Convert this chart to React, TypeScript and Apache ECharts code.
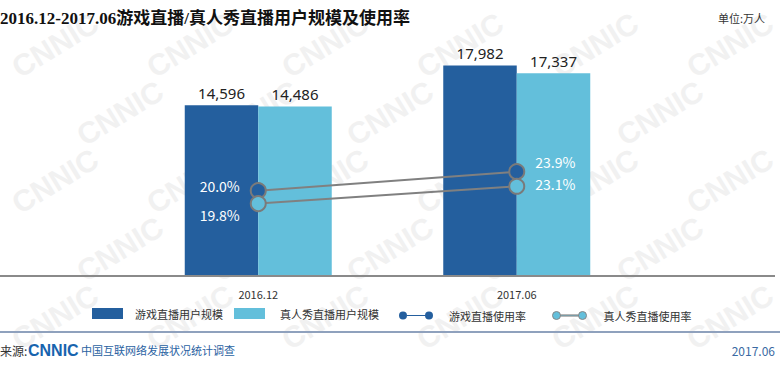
import React, { useEffect, useRef } from "react";
import * as echarts from "echarts";

const categories = ["2016.12", "2017.06"];
const gameUsers = [14596, 17982];
const showUsers = [14486, 17337];
const gameRate = [20.0, 23.9];
const showRate = [19.8, 23.1];

const seriesNames = ["游戏直播用户规模", "真人秀直播用户规模", "游戏直播使用率", "真人秀直播使用率"];

const DARK = "#245f9e";
const LIGHT = "#63bfdb";
const CJK = "'Noto Sans CJK SC', 'Noto Sans', sans-serif";

const lineIcon =
  "path://M0,4A4,4,0,1,1,8,4A4,4,0,1,1,0,4Z M8,3.4H26V4.6H8Z M26,4A4,4,0,1,1,34,4A4,4,0,1,1,26,4Z";

export default function App() {
  const ref = useRef<HTMLDivElement>(null);
  useEffect(() => {
    if (!ref.current) return;
    const chart = echarts.init(ref.current, null, { renderer: "svg" });

    const watermarks: any[] = [];
    for (let r = 0; r < 5; r++) {
      for (let c = 0; c < 6; c++) {
        const cx = 55 + c * 135 + (r % 2) * 65;
        if (cx > 735) continue;
        watermarks.push({
          type: "text",
          x: cx,
          y: 45 + r * 68,
          rotation: 0.55,
          z: -10,
          silent: true,
          style: {
            text: "CNNIC",
            fontSize: 30,
            fontWeight: "bold",
            fontFamily: "'Liberation Sans', sans-serif",
            fill: "#f1f1f1",
            textAlign: "center",
            textVerticalAlign: "middle",
          },
        });
      }
    }

    const legendBase = {
      top: 308,
      padding: 0,
      selectedMode: false,
      textStyle: { fontSize: 11, color: "#333", fontFamily: CJK },
    };

    const rateLabel = (pos: string, dist: number, dy: number) => ({
      show: true,
      position: pos,
      distance: dist,
      offset: [0, dy],
      color: "#fff",
      fontSize: 14,
      fontFamily: CJK,
      formatter: (p: any) => p.value.toFixed(1) + "%",
    });

    const barLabel = {
      show: true,
      position: "top",
      distance: 5,
      fontSize: 15,
      color: "#222",
      fontFamily: "'Noto Sans', sans-serif",
      formatter: (p: any) => p.value.toLocaleString("en-US"),
    };

    chart.setOption({
      animation: false,
      backgroundColor: "#fff",
      grid: { left: 129, right: 134, top: 42, bottom: 92 },
      xAxis: {
        type: "category",
        data: categories,
        axisLine: { show: false },
        axisTick: { show: false },
        axisLabel: { margin: 12, fontSize: 11, color: "#333", fontFamily: CJK },
      },
      yAxis: [
        { type: "value", min: 0, max: 20000, show: false },
        { type: "value", min: 2.5, max: 50.5, show: false },
        { type: "value", min: 6, max: 50.6, show: false },
      ],
      legend: [
        {
          ...legendBase,
          left: 92,
          data: [seriesNames[0]],
          icon: "rect",
          itemWidth: 31,
          itemHeight: 11,
          textStyle: { ...legendBase.textStyle, padding: [0, 0, 0, 7] },
        },
        {
          ...legendBase,
          left: 234,
          data: [seriesNames[1]],
          icon: "rect",
          itemWidth: 31,
          itemHeight: 11,
          textStyle: { ...legendBase.textStyle, padding: [0, 0, 0, 10] },
        },
        {
          ...legendBase,
          left: 399,
          top: 310,
          data: [seriesNames[2]],
          icon: lineIcon,
          itemWidth: 34,
          itemHeight: 8,
          itemStyle: { borderWidth: 0 },
          textStyle: { ...legendBase.textStyle, padding: [0, 0, 0, 11] },
        },
        {
          ...legendBase,
          left: 552,
          top: 310,
          data: [seriesNames[3]],
          icon: lineIcon,
          itemWidth: 34,
          itemHeight: 8,
          itemStyle: { borderColor: "#888", borderWidth: 1 },
          textStyle: { ...legendBase.textStyle, padding: [0, 0, 0, 12] },
        },
      ],
      series: [
        {
          name: seriesNames[0],
          type: "bar",
          data: gameUsers,
          barWidth: 73.5,
          barGap: "0%",
          itemStyle: { color: DARK },
          label: barLabel,
        },
        {
          name: seriesNames[1],
          type: "bar",
          data: showUsers,
          barWidth: 73.5,
          itemStyle: { color: LIGHT },
          label: barLabel,
        },
        {
          name: seriesNames[2],
          type: "line",
          yAxisIndex: 1,
          z: 5,
          symbol: "circle",
          symbolSize: 15,
          itemStyle: { color: DARK, borderColor: "#7a7a7a", borderWidth: 2 },
          lineStyle: { color: "#808080", width: 2 },
          data: [
            { value: gameRate[0], label: rateLabel("left", 10, -5) },
            { value: gameRate[1], label: rateLabel("right", 10, -10) },
          ],
        },
        {
          name: seriesNames[3],
          type: "line",
          yAxisIndex: 2,
          z: 5,
          symbol: "circle",
          symbolSize: 15,
          itemStyle: { color: LIGHT, borderColor: "#7a7a7a", borderWidth: 2 },
          lineStyle: { color: "#808080", width: 2 },
          data: [
            { value: showRate[0], label: rateLabel("left", 10, 11) },
            { value: showRate[1], label: rateLabel("right", 10, -2) },
          ],
        },
      ],
      graphic: [
        ...watermarks,
        {
          type: "text",
          x: 0,
          y: 18,
          style: {
            text: "2016.12-2017.06游戏直播/真人秀直播用户规模及使用率",
            fontSize: 17,
            fontWeight: "bold",
            fontFamily: "'Liberation Serif', 'Noto Sans CJK SC', serif",
            fill: "#111",
            textVerticalAlign: "middle",
          },
        },
        {
          type: "text",
          x: 765,
          y: 18,
          style: {
            text: "单位:万人",
            fontSize: 11,
            fontFamily: CJK,
            fill: "#333",
            textAlign: "right",
            textVerticalAlign: "middle",
          },
        },
        {
          type: "line",
          shape: { x1: 0, y1: 276, x2: 775, y2: 276 },
          style: { stroke: "#8a8a8a", lineWidth: 2 },
          z: 3,
        },
        {
          type: "line",
          shape: { x1: 0, y1: 332, x2: 780, y2: 332 },
          style: { stroke: "#8fa1bd", lineWidth: 2 },
        },
        {
          type: "text",
          x: 0,
          y: 350,
          style: {
            text: "来源:",
            fontSize: 12,
            fontFamily: CJK,
            fill: "#333",
            textVerticalAlign: "middle",
          },
        },
        {
          type: "text",
          x: 28,
          y: 350,
          style: {
            text: "CNNIC",
            fontSize: 16,
            fontWeight: "bold",
            fontFamily: "'Liberation Sans', sans-serif",
            fill: "#1764ae",
            textVerticalAlign: "middle",
          },
        },
        {
          type: "text",
          x: 81,
          y: 350,
          style: {
            text: "中国互联网络发展状况统计调查",
            fontSize: 11,
            fontFamily: CJK,
            fill: "#2a62a2",
            textVerticalAlign: "middle",
          },
        },
        {
          type: "text",
          x: 775,
          y: 350,
          style: {
            text: "2017.06",
            fontSize: 12,
            fontFamily: CJK,
            fill: "#3a6aa3",
            textAlign: "right",
            textVerticalAlign: "middle",
          },
        },
      ],
    });
    return () => chart.dispose();
  }, []);
  return (
    <div
      ref={ref}
      style={{ position: "fixed", left: 0, top: 0, width: 780, height: 368 }}
    />
  );
}
